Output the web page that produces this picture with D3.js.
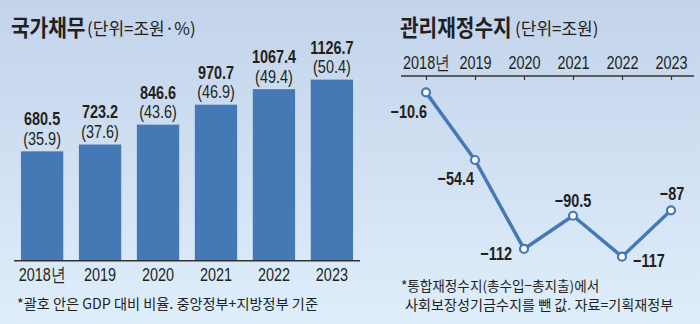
<!DOCTYPE html>
<html><head><meta charset="utf-8">
<script src="https://cdn.jsdelivr.net/npm/d3@7"></script>
<style>
html,body{margin:0;padding:0;}
svg{display:block;}
.n{font-family:"Liberation Sans",Arial,sans-serif;}
.k{font-family:"Noto Sans CJK KR","Noto Sans",sans-serif;}
</style></head>
<body>
<script>
const years = ["2018년","2019","2020","2021","2022","2023"];
const debt = [680.5, 723.2, 846.6, 970.7, 1067.4, 1126.7];
const debtRatio = ["35.9","37.6","43.6","46.9","49.4","50.4"];
const balance = [-10.6, -54.4, -112, -90.5, -117, -87];
const balanceLabels = ["−10.6","−54.4","−112","−90.5","−117","−87"];

const W=700,H=324, SX=0.78, FS=18.5;
const svg=d3.select("body").append("svg").attr("width",W).attr("height",H);
const defs=svg.append("defs");
const g=defs.append("linearGradient").attr("id","bg").attr("x1",0).attr("y1",0).attr("x2",0).attr("y2",1);
g.append("stop").attr("offset","0%").attr("stop-color","#c3d3ea");
g.append("stop").attr("offset","100%").attr("stop-color","#deeefb");
svg.append("rect").attr("width",W).attr("height",H).attr("fill","url(#bg)");

const txt="#231f20", blue="#4579b5";

// ---- Left: bar chart
svg.append("text").attr("class","k").attr("x",0).attr("y",36).attr("font-size",22.5).attr("font-weight",700)
  .attr("fill",txt).attr("transform","translate(11,0) scale(0.9,1)").text("국가채무");
svg.append("text").attr("class","k").attr("x",87).attr("y",35).attr("font-size",17).attr("fill",txt).text("(단위=조원·%)");

const xb=d3.scaleBand().domain(years).range([14,360]).paddingInner(0.27).paddingOuter(0.12);
const yb=d3.scaleLinear().domain([0,1200]).range([260.7,260.7-1200*0.1607]);

svg.append("g").selectAll("rect").data(debt).join("rect")
  .attr("x",(d,i)=>xb(years[i])).attr("width",xb.bandwidth())
  .attr("y",d=>yb(d)).attr("height",d=>yb(0)-yb(d)).attr("fill",blue);

svg.append("line").attr("x1",14).attr("x2",360).attr("y1",yb(0)).attr("y2",yb(0)).attr("stroke","#333").attr("stroke-width",1.5);

const axB=d3.axisBottom(xb).tickSize(0).tickPadding(0);
const gxb=svg.append("g").attr("transform",`translate(0,${yb(0)})`).call(axB);
gxb.select(".domain").remove();
gxb.selectAll("text").attr("dy",null).attr("y",20.5).attr("font-size",FS).attr("fill",txt)
  .attr("font-family","Liberation Sans, Arial, sans-serif").attr("transform",`scale(${SX},1)`);

svg.append("g").selectAll("text").data(debt).join("text").attr("class","n")
  .attr("x",0).attr("y",d=>yb(d)-26)
  .attr("transform",(d,i)=>`translate(${xb(years[i])+xb.bandwidth()/2},0) scale(${SX},1)`)
  .attr("text-anchor","middle").attr("font-size",FS).attr("font-weight",700).attr("fill",txt)
  .text(d=>d.toFixed(1));
svg.append("g").selectAll("text").data(debtRatio).join("text").attr("class","n")
  .attr("x",0).attr("y",(d,i)=>yb(debt[i])-6.5)
  .attr("transform",(d,i)=>`translate(${xb(years[i])+xb.bandwidth()/2},0) scale(${SX},1)`)
  .attr("text-anchor","middle").attr("font-size",FS).attr("fill",txt)
  .text(d=>"("+d+")");

svg.append("text").attr("class","k").attr("x",17).attr("y",309).attr("font-size",14.2).attr("fill",txt)
  .text("*괄호 안은 GDP 대비 비율. 중앙정부+지방정부 기준");

// ---- Right: line chart
svg.append("text").attr("class","k").attr("x",0).attr("y",36).attr("font-size",22.5).attr("font-weight",700)
  .attr("fill",txt).attr("transform","translate(400,0) scale(0.9,1)").text("관리재정수지");
svg.append("text").attr("class","k").attr("x",515).attr("y",35).attr("font-size",17).attr("fill",txt).text("(단위=조원)");

const xl=d3.scalePoint().domain(years).range([426,671]);
const yl=d3.scaleLinear().domain([0,-120]).range([76,76+120*1.544]);

svg.append("line").attr("x1",401).attr("x2",694).attr("y1",yl(0)).attr("y2",yl(0)).attr("stroke","#333").attr("stroke-width",1.5);
const axL=d3.axisBottom(xl).tickSize(4).tickPadding(0);
const gxl=svg.append("g").attr("transform",`translate(0,${yl(0)})`).call(axL);
gxl.select(".domain").remove();
gxl.selectAll("line").attr("stroke","#333").attr("stroke-width",1.2);
gxl.selectAll("text").attr("dy",null).attr("y",-7).attr("font-size",FS).attr("fill",txt)
  .attr("font-family","Liberation Sans, Arial, sans-serif").attr("transform",`scale(${SX},1)`);

const line=d3.line().x((d,i)=>xl(years[i])).y(d=>yl(d));
svg.append("path").datum(balance).attr("d",line).attr("fill","none").attr("stroke",blue)
  .attr("stroke-width",3.5).attr("stroke-linejoin","round");
svg.append("g").selectAll("circle").data(balance).join("circle")
  .attr("cx",(d,i)=>xl(years[i])).attr("cy",d=>yl(d)).attr("r",4)
  .attr("fill","#fff").attr("stroke",blue).attr("stroke-width",2.2);

const lblPos=[
  {dx:1,dy:25.5,a:"end"},
  {dx:-1,dy:25,a:"end"},
  {dx:-12,dy:11,a:"end"},
  {dx:0,dy:-9,a:"middle"},
  {dx:11,dy:10,a:"start"},
  {dx:1,dy:-10,a:"middle"}
];
svg.append("g").selectAll("text").data(balance).join("text").attr("class","n")
  .attr("x",0).attr("y",(d,i)=>yl(d)+lblPos[i].dy)
  .attr("transform",(d,i)=>`translate(${xl(years[i])+lblPos[i].dx},0) scale(${SX},1)`)
  .attr("text-anchor",(d,i)=>lblPos[i].a).attr("font-size",FS).attr("font-weight",700)
  .attr("fill",txt).text((d,i)=>balanceLabels[i]);

svg.append("text").attr("class","k").attr("x",401).attr("y",290.5).attr("font-size",13.6).attr("fill",txt)
  .text("*통합재정수지(총수입−총지출)에서");
svg.append("text").attr("class","k").attr("x",0).attr("y",310).attr("font-size",13.6).attr("fill",txt)
  .attr("transform","translate(405,0) scale(1.04,1)")
  .text("사회보장성기금수지를 뺀 값. 자료=기획재정부");
</script>
</body></html>
